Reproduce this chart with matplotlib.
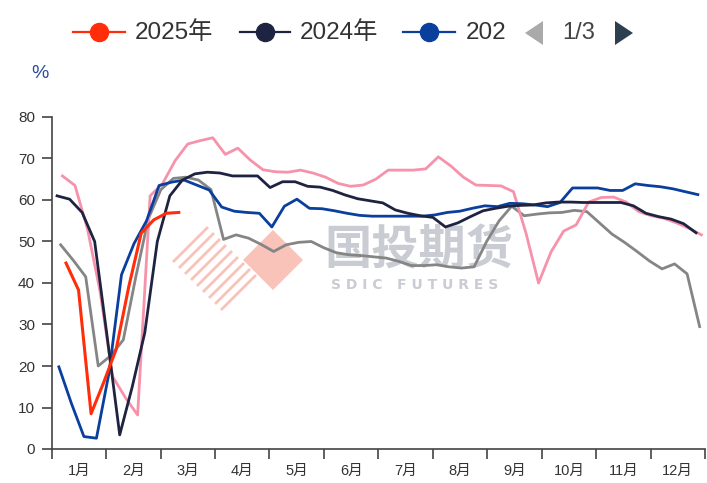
import numpy as np
import matplotlib
matplotlib.use("Agg")
import matplotlib.pyplot as plt
from matplotlib.lines import Line2D
from matplotlib.patches import Polygon

plt.rcParams['font.family'] = ['Liberation Sans', 'Noto Sans CJK SC', 'DejaVu Sans']

# weekly capacity utilisation (%), first week given as day of year
months = ['1月', '2月', '3月', '4月', '5月', '6月', '7月', '8月', '9月', '10月', '11月', '12月']
legend_names = ['2025年', '2024年', '202']
page_label = '1/3'

start_2025 = 8
y2025 = [44.8, 38.3, 8.5, 16, 24, 39, 52, 55.2, 56.8, 57]

start_2024 = 3
y2024 = [61, 60.2, 57, 50, 27, 3.4, 15, 28, 50, 61,
         64.8, 66.3, 66.7, 66.5, 65.8, 65.8, 65.8, 63, 64.4, 64.4,
         63.3, 63.1, 62.3, 61.2, 60.3, 59.8, 59.3, 57.6, 56.8, 56.2,
         55.8, 53.5, 54.5, 56, 57.4, 58, 58.5, 58.7, 58.8, 59.3,
         59.5, 59.5, 59.4, 59.4, 59.4, 59.4, 58.6, 56.8, 56.0, 55.4,
         54.3, 52.1]

start_2023 = 4
y2023 = [19.8, 11, 3, 2.6, 18.3, 42, 49.5, 55, 63.5, 64.3,
         64.8, 63.6, 62.4, 58.3, 57.3, 57, 56.8, 53.5, 58.5, 60.2,
         58, 57.9, 57.4, 56.8, 56.3, 56.1, 56.1, 56.1, 56.1, 56.1,
         56.4, 57, 57.3, 58, 58.6, 58.4, 59.2, 59.1, 58.8, 58.4,
         59.4, 62.9, 62.9, 62.9, 62.3, 62.3, 63.9, 63.5, 63.2, 62.7,
         62, 61.3]

start_2022 = 6
y2022 = [65.8, 63.5, 53, 38, 17.5, 12.5, 8.2, 61, 64, 69.5,
         73.5, 74.3, 75, 71, 72.5, 69.6, 67.3, 66.8, 66.7, 67.2,
         66.5, 65.5, 64, 63.3, 63.6, 65, 67.2, 67.2, 67.2, 67.5,
         70.4, 68.2, 65.5, 63.6, 63.5, 63.4, 62, 52, 40, 47.5,
         52.5, 54, 59.5, 60.6, 60.7, 59.5, 57.2, 56.2, 55.6, 54.5,
         53.2, 51.6]

start_2021 = 5
y2021 = [49.2, 45.5, 41.5, 20, 22.5, 26.3, 41.5, 55.5, 62.5, 65.2,
         65.5, 64.8, 62.5, 50.5, 51.6, 50.8, 49.3, 47.6, 49.2, 49.8,
         50, 48.5, 47.3, 46.8, 46.6, 46.3, 46, 45.2, 44.2, 44.2,
         44.4, 43.9, 43.6, 43.9, 50, 55, 58.5, 56.2, 56.6, 56.9,
         57, 57.5, 57.2, 54.5, 51.8, 49.8, 47.6, 45.3, 43.4, 44.6,
         42.2, 29.5]

c2025 = '#FF2D0A'
c2024 = '#1E2342'
c2023 = '#0A3F9E'
c2022 = '#F792AB'
c2021 = '#858585'


def week_x(start, vals):
    # position in months (12 equal month slots)
    return (start + 7 * np.arange(len(vals))) / 365 * 12


W, H = 707, 483
fig = plt.figure(figsize=(W / 100, H / 100), dpi=100)
ax = fig.add_axes([51.7 / W, 34 / H, (705 - 51.7) / W, (449 - 117) / H])


def px(x, y):
    return (x / W, 1 - y / H)


# watermark
diamond = [px(243, 260), px(273, 230), px(303, 260), px(273, 290)]
ax.add_patch(Polygon(diamond, closed=True, transform=fig.transFigure,
                     facecolor='#F9C3BA', edgecolor='none', zorder=0.5))
for i in range(9):
    x0, y0 = 207 + 6 * i, 228 + 6 * i
    a, b = px(x0, y0), px(x0 - 33, y0 + 33)
    ax.add_line(Line2D([a[0], b[0]], [a[1], b[1]], transform=fig.transFigure,
                       color='#F9C3BA', lw=2, zorder=0.5))
ax.text(*px(419, 251), '国投期货', transform=fig.transFigure, ha='center', va='center',
        fontsize=34, color='#C9CCD2', fontweight='bold', family=['Noto Sans CJK SC'], zorder=0.6)
ax.text(*px(415, 285), 'S D I C   F U T U R E S', transform=fig.transFigure, ha='center',
        va='center', fontsize=10, color='#C9CCD2', fontweight='bold',
        family=['DejaVu Sans'], zorder=0.6)

ax.plot(week_x(start_2021, y2021), y2021, color=c2021, lw=2, zorder=2)
ax.plot(week_x(start_2022, y2022), y2022, color=c2022, lw=2, zorder=2)
ax.plot(week_x(start_2023, y2023), y2023, color=c2023, lw=2, zorder=3)
ax.plot(week_x(start_2024, y2024), y2024, color=c2024, lw=2, zorder=4)
ax.plot(week_x(start_2025, y2025), y2025, color=c2025, lw=2.2, zorder=5)

ax.set_xlim(0, 12)
ax.set_ylim(0, 80)
ax.set_yticks(range(0, 81, 10))
ax.set_xticks(range(13))
ax.set_xticklabels([])
ax.set_xticks(np.arange(12) + 0.5, minor=True)
ax.set_xticklabels(months, minor=True)
ax.tick_params(axis='x', which='minor', length=0, pad=11, labelsize=10.5, labelcolor='#333333')
ax.tick_params(axis='x', which='major', length=7, width=1.2, color='#444444')
ax.tick_params(axis='y', length=7, width=1.2, pad=5, color='#444444', labelsize=11,
               labelcolor='#333333')
for s in ['top', 'right']:
    ax.spines[s].set_visible(False)
for s in ['left', 'bottom']:
    ax.spines[s].set_color('#444444')
    ax.spines[s].set_linewidth(1.2)
ax.spines['left'].set_bounds(0, 80)

fig.text(*px(40, 73), '%', ha='center', va='center', fontsize=14, color='#2B4C9B')

# legend (page 1 of 3), laid out by hand
leg_y = 32
for (x0, x1, xt), c, name in zip([(73, 125, 135), (240, 290, 300), (403, 455, 466)],
                                 (c2025, c2024, c2023), legend_names):
    a, b = px(x0, leg_y), px(x1, leg_y)
    fig.add_artist(Line2D([a[0], b[0]], [a[1], b[1]], color=c, lw=1.6))
    m = px((x0 + x1) / 2, leg_y)
    fig.add_artist(Line2D([m[0]], [m[1]], color=c, marker='o', markersize=13, lw=0))
    fig.text(*px(xt, leg_y + 1), name, ha='left', va='center', fontsize=17.5, color='#333333')

fig.add_artist(Polygon([px(543, 21), px(543, 45), px(525, 33)], closed=True,
                       transform=fig.transFigure, facecolor='#AAAAAA', edgecolor='none'))
fig.text(*px(579, 33), page_label, ha='center', va='center', fontsize=17, color='#444444')
fig.add_artist(Polygon([px(615, 21), px(615, 45), px(633, 33)], closed=True,
                       transform=fig.transFigure, facecolor='#2E4050', edgecolor='none'))

fig.savefig('out.png', dpi=100)
